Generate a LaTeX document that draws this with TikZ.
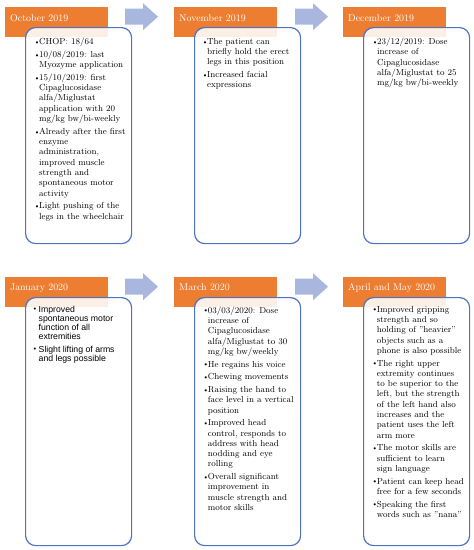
\documentclass[tikz,border=0pt]{standalone}
\usepackage{fontspec}
\usepackage{graphicx}
\newfontfamily\bodysans{Liberation Sans}
\definecolor{hdrorange}{HTML}{ED7D31}
\definecolor{arrowblue}{HTML}{A9B7DE}
\definecolor{boxblue}{HTML}{4F73C0}
\newcommand\bl{\makebox[5pt][l]{\raisebox{0.2pt}{\scalebox{0.85}{\textbullet}}}}
\newcommand\ct{\hspace*{5pt}}
\tikzset{
  header/.style={fill=hdrorange, draw=none, minimum width=103pt, minimum height=30pt, anchor=north west, inner sep=0},
  panel/.style={draw=boxblue, line width=1.2pt, rounded corners=10pt, fill=white, fill opacity=0.88, minimum width=106pt, anchor=north west, inner sep=0},
  flow/.style={fill=arrowblue, draw=none},
  htext/.style={text=white, font=\fontsize{9.9}{11}\selectfont, anchor=base west, inner sep=0},
  btext/.style={font=\fontsize{8.75}{10.3}\selectfont, align=left, anchor=north west, inner sep=0},
  bsans/.style={font=\bodysans\fontsize{8.7}{9.1}\selectfont, align=left, anchor=north west, inner sep=0},
}
\begin{document}
\begin{tikzpicture}[x=1pt,y=-1pt]
\useasboundingbox (0,0) rectangle (474,550);
% ---------- row 1 ----------
\node[header] (h1) at (5,7) {};
\node[header] (h2) at (174,7) {};
\node[header] (h3) at (343,7) {};
\node[panel, minimum height=216pt] (p1) at (25,27) {};
\node[panel, minimum height=216pt] (p2) at (194,27) {};
\node[panel, minimum height=216pt] (p3) at (363,27) {};
\node[htext] (ht1) at (10,21.6) {October 2019};
\node[htext] (ht2) at (179,21.6) {November 2019};
\node[htext] (ht3) at (348,21.6) {December 2019};
\fill[flow] (125,8.7) -- (143,8.7) -- (143,3.2) -- (158,16.7) -- (143,30.2) -- (143,24.7) -- (125,24.7) -- cycle;
\fill[flow] (295,8.7) -- (313,8.7) -- (313,3.2) -- (328,16.7) -- (313,30.2) -- (313,24.7) -- (295,24.7) -- cycle;
\node[btext] (b1) at (34,37.2) {\strut\bl CHOP: 18/64\\[2.4pt]
\bl 10/08/2019: last\\ \ct Myozyme application\\[2.4pt]
\bl 15/10/2019: first\\ \ct Cipaglucosidase\\ \ct alfa/Miglustat\\ \ct application with 20\\ \ct mg/kg bw/bi-weekly\\[2.4pt]
\bl Already after the first\\ \ct enzyme\\ \ct administration,\\ \ct improved muscle\\ \ct strength and\\ \ct spontaneous motor\\ \ct activity\\[2.4pt]
\bl Light pushing of the\\ \ct legs in the wheelchair};
\node[btext] (b2) at (202,36.8) {\strut\bl The patient can\\ \ct briefly hold the erect\\ \ct legs in this position\\[2.4pt]
\bl Increased facial\\ \ct expressions};
\node[btext] (b3) at (372,37) {\strut\bl 23/12/2019: Dose\\ \ct increase of\\ \ct Cipaglucosidase\\ \ct alfa/Miglustat to 25\\ \ct mg/kg bw/bi-weekly};
% ---------- row 2 ----------
\node[header] (h4) at (5,277) {};
\node[header] (h5) at (174,277) {};
\node[header] (h6) at (343,277) {};
\node[panel, minimum height=248pt] (p4) at (25,297) {};
\node[panel, minimum height=248pt] (p5) at (194,297) {};
\node[panel, minimum height=248pt] (p6) at (363,297) {};
\node[htext] (ht4) at (10,290.6) {January 2020};
\node[htext] (ht5) at (179,290.6) {March 2020};
\node[htext] (ht6) at (348,290.6) {April and May 2020};
\fill[flow] (125,278.7) -- (143,278.7) -- (143,273.2) -- (158,286.7) -- (143,300.2) -- (143,294.7) -- (125,294.7) -- cycle;
\fill[flow] (295,278.7) -- (313,278.7) -- (313,273.2) -- (328,286.7) -- (313,300.2) -- (313,294.7) -- (295,294.7) -- cycle;
\node[bsans] (b4) at (33.5,305.6) {\strut\bl Improved\\ \ct spontaneous motor\\ \ct function of all\\ \ct extremities\\[3.6pt]
\bl Slight lifting of arms\\ \ct and legs possible};
\node[btext] (b5) at (202.7,305.7) {\strut\bl 03/03/2020: Dose\\ \ct increase of\\ \ct Cipaglucosidase\\ \ct alfa/Miglustat to 30\\ \ct mg/kg bw/weekly\\[2.4pt]
\bl He regains his voice\\[2.4pt]
\bl Chewing movements\\[2.4pt]
\bl Raising the hand to\\ \ct face level in a vertical\\ \ct position\\[2.4pt]
\bl Improved head\\ \ct control, responds to\\ \ct address with head\\ \ct nodding and eye\\ \ct rolling\\[2.4pt]
\bl Overall significant\\ \ct improvement in\\ \ct muscle strength and\\ \ct motor skills};
\node[btext] (b6) at (371.7,304.7) {\strut\bl Improved gripping\\ \ct strength and so\\ \ct holding of "heavier"\\ \ct objects such as a\\ \ct phone is also possible\\[2.4pt]
\bl The right upper\\ \ct extremity continues\\ \ct to be superior to the\\ \ct left, but the strength\\ \ct of the left hand also\\ \ct increases and the\\ \ct patient uses the left\\ \ct arm more\\[2.4pt]
\bl The motor skills are\\ \ct sufficient to learn\\ \ct sign language\\[2.4pt]
\bl Patient can keep head\\ \ct free for a few seconds\\[2.4pt]
\bl Speaking the first\\ \ct words such as "nana"};
\end{tikzpicture}
\end{document}
